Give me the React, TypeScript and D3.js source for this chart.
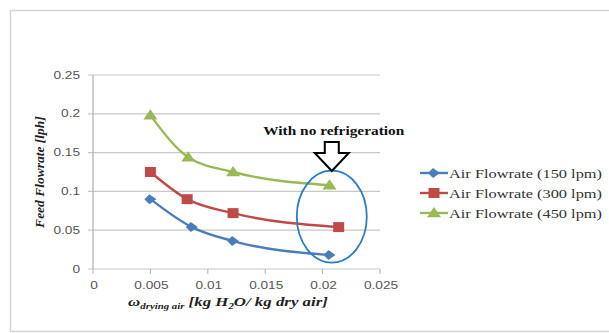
import React from 'react';
import * as d3 from 'd3';

interface Pt {
  x: number;
  y: number;
}

// 横轴: 干燥空气含湿量
const humidity150 = [0.005, 0.0086, 0.0122, 0.0206];
const flow150 = [0.09, 0.054, 0.036, 0.018];
const humidity300 = [0.005, 0.0082, 0.0122, 0.0214];
const flow300 = [0.125, 0.09, 0.072, 0.054];
const humidity450 = [0.005, 0.0083, 0.0122, 0.0206];
const flow450 = [0.198, 0.144, 0.125, 0.108];

const seriesNames = ['Air Flowrate (150 lpm)', 'Air Flowrate (300 lpm)', 'Air Flowrate (450 lpm)'];
const xTicks = [0, 0.005, 0.01, 0.015, 0.02, 0.025];
const yTicks = [0, 0.05, 0.1, 0.15, 0.2, 0.25];

const zip = (xs: number[], ys: number[]): Pt[] => xs.map((x, i) => ({ x, y: ys[i] }));

const series = [
  { name: seriesNames[0], color: '#4A7EBB', marker: 'diamond', data: zip(humidity150, flow150) },
  { name: seriesNames[1], color: '#BE4B48', marker: 'square', data: zip(humidity300, flow300) },
  { name: seriesNames[2], color: '#98B954', marker: 'triangle', data: zip(humidity450, flow450) }
];

const WIDTH = 609;
const HEIGHT = 333;
const margin = { top: 75, right: 229, bottom: 64, left: 93 };
// 原图横向拉伸
const STRETCH = 1.3;

function Marker(props: { type: string; x: number; y: number; color: string }) {
  const { type, x, y, color } = props;
  if (type === 'diamond') {
    const s = 5;
    return <path d={`M${x - 1},${y - s}L${x + s + 1},${y}L${x - 1},${y + s}L${x - s - 1},${y}Z`} fill={color} />;
  }
  if (type === 'square') {
    return <rect x={x - 5.5} y={y - 5} width={11} height={10} fill={color} />;
  }
  const s = 6;
  return <path d={`M${x},${y - s}L${x + s + 1},${y + s * 0.7}L${x - s - 1},${y + s * 0.7}Z`} fill={color} />;
}

export default function App() {
  const chartW = WIDTH - margin.left - margin.right;
  const chartH = HEIGHT - margin.top - margin.bottom;

  const xScale = d3.scaleLinear().domain([0, 0.025]).range([0, chartW]);
  const yScale = d3.scaleLinear().domain([0, 0.25]).range([chartH, 0]);

  const line = d3
    .line<Pt>()
    .x(d => xScale(d.x))
    .y(d => yScale(d.y))
    .curve(d3.curveMonotoneX);

  const tickFont = '"Liberation Sans", Arial, sans-serif';
  const serif = '"Liberation Serif", "Times New Roman", serif';

  // 标注位置 (取最后一个点附近)
  const ex = xScale(0.0208);
  const ey = yScale(0.0675);

  return (
    <svg
      width={WIDTH}
      height={HEIGHT}
      style={{ position: 'absolute', left: 0, top: 0, background: '#fff' }}
    >
      {/* 外框 */}
      <rect x={10.5} y={10.5} width={WIDTH} height={321} fill="#fff" stroke="#d4d4d4" strokeWidth={1.5} />

      <g transform={`translate(${margin.left},${margin.top})`}>
        {/* 网格线 */}
        {yTicks.map(t => (
          <g key={t}>
            <line x1={-5} x2={chartW} y1={yScale(t)} y2={yScale(t)} stroke="#c8c8c8" strokeWidth={1.2} />
            <text
              transform={`translate(-13,${yScale(t) + 3.5}) scale(${STRETCH},1)`}
              fontSize={10.5}
              fill="#555"
              textAnchor="end"
              fontFamily={tickFont}
            >
              {t}
            </text>
          </g>
        ))}
        <line x1={0} x2={0} y1={0} y2={chartH} stroke="#b0b0b0" strokeWidth={1.2} />
        {xTicks.map(t => (
          <g key={t}>
            <line x1={xScale(t)} x2={xScale(t)} y1={chartH} y2={chartH + 5} stroke="#b0b0b0" />
            <text
              transform={`translate(${xScale(t) + 1},${chartH + 20}) scale(${STRETCH},1)`}
              fontSize={10.5}
              fill="#555"
              textAnchor="middle"
              fontFamily={tickFont}
            >
              {t}
            </text>
          </g>
        ))}

        {/* 折线 */}
        {series.map(s => (
          <g key={s.name}>
            <path d={line(s.data) || ''} fill="none" stroke={s.color} strokeWidth={2.4} />
            {s.data.map((d, i) => (
              <Marker key={i} type={s.marker} x={xScale(d.x)} y={yScale(d.y)} color={s.color} />
            ))}
          </g>
        ))}

        {/* 标注 */}
        <ellipse cx={ex} cy={ey} rx={35} ry={46} fill="none" stroke="#2E7DC2" strokeWidth={1.8} />
        <path
          d={`M${ex - 7},${67}L${ex + 7},${67}L${ex + 7},${78}L${ex + 17},${78}L${ex},${96}L${ex - 17},${78}L${ex - 7},${78}Z`}
          fill="#fff"
          stroke="#000"
          strokeWidth={2}
          strokeLinejoin="miter"
        />
        <text
          x={ex + 2}
          y={60}
          fontSize={13.5}
          fontWeight="bold"
          textAnchor="middle"
          fontFamily={serif}
          fill="#111"
          textLength={141}
          lengthAdjust="spacingAndGlyphs"
        >
          With no refrigeration
        </text>
      </g>

      {/* y轴标题 */}
      <text
        transform="translate(44,172) rotate(-90)"
        textAnchor="middle"
        fontSize={13.5}
        fontWeight="bold"
        fontStyle="italic"
        fontFamily={serif}
        fill="#222"
      >
        Feed Flowrate [lph]
      </text>

      {/* x轴标题 */}
      <g transform={`translate(228,306) scale(1.35,1)`}>
        <text
          x={0}
          y={0}
          textAnchor="middle"
          fontSize={12.5}
          fontWeight="bold"
          fontStyle="italic"
          fontFamily={serif}
          fill="#222"
        >
          ω
          <tspan fontSize={8} dy={3}>drying air</tspan>
          <tspan dy={-3}> [kg H</tspan>
          <tspan fontSize={8} dy={3}>2</tspan>
          <tspan dy={-3}>O/ kg dry air]</tspan>
        </text>
      </g>

      {/* 图例 */}
      {series.map((s, i) => {
        const ly = 173 + i * 20;
        return (
          <g key={s.name}>
            <line x1={420} x2={448} y1={ly} y2={ly} stroke={s.color} strokeWidth={2.4} />
            <Marker type={s.marker} x={434} y={ly} color={s.color} />
            <text
              x={449}
              y={ly + 4.5}
              fontSize={12.5}
              fontFamily={serif}
              fill="#333"
              textLength={153}
              lengthAdjust="spacingAndGlyphs"
            >
              {s.name}
            </text>
          </g>
        );
      })}
    </svg>
  );
}
